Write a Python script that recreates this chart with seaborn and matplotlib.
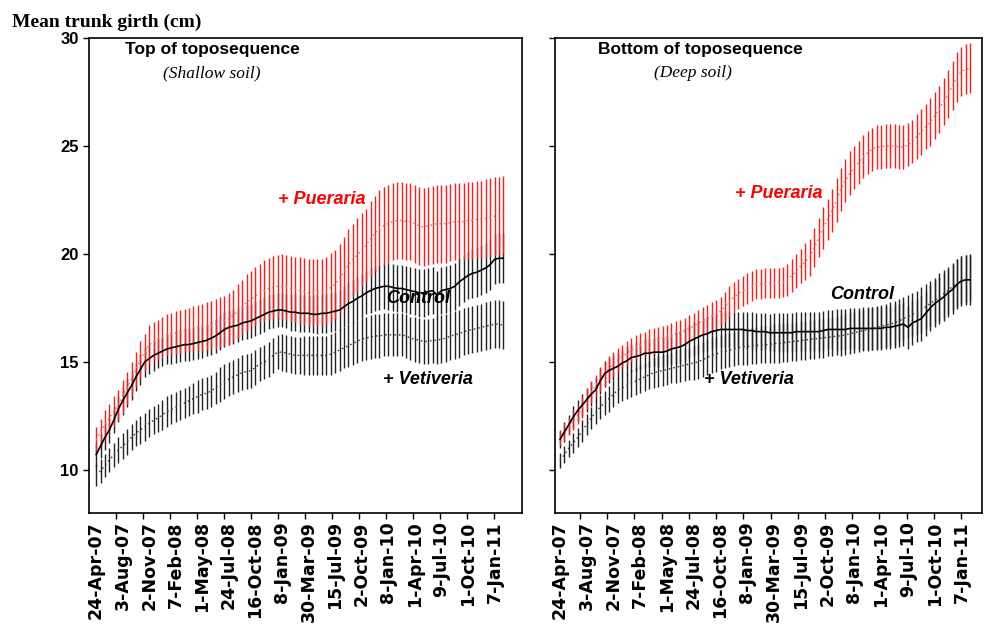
import numpy as np
import matplotlib
matplotlib.use("Agg")
import matplotlib.pyplot as plt
import seaborn as sns

# tick labels on the category axis (one label every 6 measurements)
date_labels = ["24-Apr-07", "3-Aug-07", "2-Nov-07", "7-Feb-08", "1-May-08", "24-Jul-08",
               "16-Oct-08", "8-Jan-09", "30-Mar-09", "15-Jul-09", "2-Oct-09", "8-Jan-10",
               "1-Apr-10", "9-Jul-10", "1-Oct-10", "7-Jan-11"]

# --- Top of toposequence (shallow soil) ---
top_pueraria = [11.4, 11.75, 12.1, 12.4, 12.7, 13.0, 13.4, 13.8, 14.2, 14.65,
                15.1, 15.45, 15.8, 15.95, 16.05, 16.15, 16.25, 16.3, 16.35, 16.4,
                16.45, 16.5, 16.55, 16.6, 16.6, 16.65, 16.7, 16.75, 16.85, 16.9,
                17.0, 17.15, 17.35, 17.55, 17.75, 17.9, 18.05, 18.2, 18.3, 18.4,
                18.45, 18.5, 18.5, 18.45, 18.4, 18.35, 18.3, 18.25, 18.2, 18.2,
                18.2, 18.2, 18.3, 18.45, 18.6, 18.85, 19.15, 19.5, 19.75, 19.95,
                20.2, 20.4, 20.7, 20.95, 21.2, 21.3, 21.4, 21.5, 21.55, 21.55,
                21.5, 21.5, 21.4, 21.3, 21.25, 21.3, 21.35, 21.4, 21.4, 21.4,
                21.45, 21.5, 21.5, 21.5, 21.55, 21.55, 21.6, 21.6, 21.65, 21.7,
                21.75, 21.75, 21.8]
top_pueraria_err = [0.6, 0.6, 0.65, 0.65, 0.7, 0.7, 0.75, 0.75, 0.8, 0.8,
                    0.85, 0.85, 0.9, 0.9, 0.9, 0.95, 0.95, 0.95, 1.0, 1.0,
                    1.0, 1.0, 1.05, 1.05, 1.1, 1.1, 1.1, 1.15, 1.15, 1.15,
                    1.2, 1.2, 1.25, 1.25, 1.3, 1.3, 1.35, 1.35, 1.4, 1.4,
                    1.45, 1.45, 1.5, 1.5, 1.5, 1.5, 1.55, 1.55, 1.55, 1.55,
                    1.55, 1.55, 1.55, 1.6, 1.6, 1.6, 1.65, 1.65, 1.65, 1.7,
                    1.7, 1.7, 1.75, 1.75, 1.75, 1.8, 1.8, 1.8, 1.8, 1.8,
                    1.8, 1.8, 1.8, 1.8, 1.8, 1.8, 1.8, 1.8, 1.8, 1.8,
                    1.8, 1.8, 1.8, 1.8, 1.8, 1.8, 1.8, 1.8, 1.8, 1.8,
                    1.8, 1.8, 1.8]
top_control = [10.7, 11.1, 11.5, 11.85, 12.3, 12.8, 13.2, 13.55, 13.9, 14.3,
               14.65, 15.0, 15.15, 15.3, 15.4, 15.5, 15.6, 15.65, 15.7, 15.75,
               15.8, 15.8, 15.85, 15.9, 15.95, 16.0, 16.1, 16.2, 16.35, 16.5,
               16.6, 16.65, 16.7, 16.8, 16.85, 16.9, 17.0, 17.1, 17.2, 17.3,
               17.35, 17.4, 17.4, 17.35, 17.3, 17.3, 17.25, 17.25, 17.25, 17.2,
               17.2, 17.25, 17.25, 17.3, 17.35, 17.4, 17.55, 17.7, 17.8, 17.95,
               18.05, 18.2, 18.3, 18.4, 18.45, 18.5, 18.5, 18.45, 18.4, 18.4,
               18.35, 18.3, 18.25, 18.2, 18.2, 18.25, 18.3, 18.1, 18.3, 18.35,
               18.4, 18.5, 18.7, 18.85, 19.0, 19.1, 19.15, 19.25, 19.35, 19.5,
               19.75, 19.8, 19.8]
top_control_err = [0.55, 0.55, 0.6, 0.6, 0.6, 0.6, 0.65, 0.65, 0.65, 0.65,
                   0.7, 0.7, 0.7, 0.7, 0.7, 0.7, 0.7, 0.75, 0.75, 0.75,
                   0.75, 0.75, 0.75, 0.75, 0.75, 0.75, 0.8, 0.8, 0.8, 0.8,
                   0.8, 0.8, 0.8, 0.8, 0.8, 0.8, 0.8, 0.8, 0.8, 0.8,
                   0.8, 0.8, 0.8, 0.8, 0.85, 0.85, 0.85, 0.85, 0.85, 0.85,
                   0.9, 0.9, 0.9, 0.9, 0.9, 0.95, 0.95, 0.95, 1.0, 1.0,
                   1.0, 1.0, 1.05, 1.05, 1.05, 1.05, 1.1, 1.1, 1.1, 1.1,
                   1.1, 1.1, 1.1, 1.1, 1.1, 1.1, 1.1, 1.1, 1.1, 1.1,
                   1.1, 1.1, 1.1, 1.1, 1.1, 1.15, 1.15, 1.15, 1.15, 1.15,
                   1.15, 1.15, 1.15]
top_vetiveria = [9.75, 9.95, 10.2, 10.45, 10.7, 10.9, 11.1, 11.3, 11.5, 11.7,
                 11.85, 12.0, 12.15, 12.3, 12.4, 12.55, 12.7, 12.8, 12.9, 13.0,
                 13.1, 13.2, 13.3, 13.4, 13.5, 13.55, 13.65, 13.8, 13.95, 14.1,
                 14.2, 14.3, 14.4, 14.5, 14.55, 14.6, 14.75, 14.9, 15.0, 15.1,
                 15.3, 15.45, 15.45, 15.4, 15.35, 15.3, 15.3, 15.3, 15.3, 15.3,
                 15.3, 15.3, 15.3, 15.35, 15.45, 15.55, 15.65, 15.75, 15.85, 15.95,
                 16.05, 16.1, 16.15, 16.2, 16.2, 16.25, 16.25, 16.25, 16.25, 16.25,
                 16.2, 16.1, 16.05, 16.0, 15.95, 15.95, 16.0, 16.0, 16.05, 16.1,
                 16.2, 16.25, 16.3, 16.4, 16.45, 16.5, 16.55, 16.6, 16.65, 16.7,
                 16.75, 16.75, 16.7]
top_vetiveria_err = [0.5, 0.55, 0.55, 0.55, 0.55, 0.6, 0.6, 0.6, 0.6, 0.6,
                     0.65, 0.65, 0.65, 0.65, 0.65, 0.7, 0.7, 0.7, 0.7, 0.7,
                     0.7, 0.7, 0.7, 0.75, 0.75, 0.75, 0.75, 0.75, 0.8, 0.8,
                     0.8, 0.8, 0.8, 0.8, 0.8, 0.8, 0.8, 0.8, 0.8, 0.8,
                     0.8, 0.8, 0.85, 0.85, 0.85, 0.85, 0.85, 0.9, 0.9, 0.9,
                     0.9, 0.9, 0.9, 0.95, 0.95, 0.95, 0.95, 1.0, 1.0, 1.0,
                     1.0, 1.0, 1.0, 1.0, 1.0, 1.0, 1.0, 1.0, 1.0, 1.0,
                     1.0, 1.0, 1.05, 1.05, 1.05, 1.05, 1.05, 1.1, 1.1, 1.1,
                     1.1, 1.1, 1.1, 1.1, 1.1, 1.1, 1.1, 1.1, 1.1, 1.1,
                     1.1, 1.1, 1.1]

# --- Bottom of toposequence (deep soil) ---
bot_pueraria = [11.5, 11.75, 12.0, 12.3, 12.55, 12.9, 13.25, 13.6, 13.9, 14.2,
                14.45, 14.7, 14.9, 15.1, 15.25, 15.4, 15.55, 15.7, 15.8, 15.85,
                15.9, 15.95, 16.0, 16.05, 16.1, 16.2, 16.3, 16.35, 16.45, 16.55,
                16.65, 16.8, 16.9, 17.0, 17.1, 17.2, 17.35, 17.55, 17.8, 18.0,
                18.15, 18.3, 18.4, 18.5, 18.6, 18.6, 18.65, 18.65, 18.65, 18.65,
                18.7, 18.8, 19.0, 19.2, 19.45, 19.65, 19.85, 20.3, 20.75, 21.2,
                21.6, 22.0, 22.5, 23.0, 23.4, 23.75, 24.0, 24.25, 24.5, 24.7,
                24.85, 24.95, 24.95, 25.0, 25.0, 25.0, 24.95, 24.95, 25.05, 25.2,
                25.45, 25.65, 25.9, 26.1, 26.4, 26.7, 27.05, 27.4, 27.8, 28.2,
                28.45, 28.55, 28.6]
bot_pueraria_err = [0.35, 0.4, 0.4, 0.45, 0.45, 0.5, 0.5, 0.5, 0.5, 0.55,
                    0.55, 0.55, 0.55, 0.55, 0.55, 0.55, 0.55, 0.55, 0.55, 0.55,
                    0.6, 0.6, 0.6, 0.6, 0.6, 0.6, 0.6, 0.6, 0.6, 0.6,
                    0.6, 0.6, 0.65, 0.65, 0.65, 0.65, 0.65, 0.7, 0.7, 0.7,
                    0.7, 0.7, 0.7, 0.7, 0.7, 0.7, 0.7, 0.7, 0.7, 0.7,
                    0.7, 0.75, 0.75, 0.8, 0.8, 0.85, 0.85, 0.9, 0.9, 0.95,
                    0.95, 1.0, 1.0, 1.0, 1.0, 1.0, 1.0, 1.0, 1.0, 1.0,
                    1.0, 1.0, 1.0, 1.0, 1.0, 1.0, 1.0, 1.0, 1.0, 1.0,
                    1.05, 1.05, 1.05, 1.1, 1.1, 1.1, 1.1, 1.1, 1.15, 1.15,
                    1.15, 1.15, 1.15]
bot_control = [11.4, 11.75, 12.1, 12.45, 12.75, 13.0, 13.25, 13.5, 13.7, 14.1,
               14.45, 14.6, 14.7, 14.8, 14.95, 15.05, 15.2, 15.25, 15.3, 15.4,
               15.4, 15.45, 15.45, 15.45, 15.5, 15.6, 15.65, 15.7, 15.8, 15.95,
               16.05, 16.15, 16.25, 16.3, 16.4, 16.45, 16.5, 16.5, 16.5, 16.5,
               16.5, 16.5, 16.45, 16.45, 16.4, 16.4, 16.4, 16.35, 16.35, 16.35,
               16.35, 16.35, 16.35, 16.4, 16.4, 16.4, 16.4, 16.4, 16.4, 16.45,
               16.5, 16.5, 16.5, 16.5, 16.5, 16.55, 16.55, 16.55, 16.55, 16.55,
               16.55, 16.55, 16.55, 16.6, 16.6, 16.65, 16.7, 16.75, 16.6, 16.8,
               16.9, 17.0, 17.25, 17.5, 17.7, 17.85, 18.0, 18.2, 18.35, 18.6,
               18.75, 18.8, 18.8]
bot_control_err = [0.4, 0.45, 0.45, 0.5, 0.5, 0.5, 0.55, 0.55, 0.55, 0.6,
                   0.6, 0.6, 0.6, 0.6, 0.6, 0.65, 0.65, 0.65, 0.65, 0.65,
                   0.65, 0.65, 0.7, 0.7, 0.7, 0.7, 0.75, 0.75, 0.75, 0.75,
                   0.8, 0.8, 0.8, 0.8, 0.8, 0.8, 0.8, 0.8, 0.8, 0.8,
                   0.8, 0.8, 0.85, 0.85, 0.85, 0.85, 0.85, 0.85, 0.9, 0.9,
                   0.9, 0.9, 0.9, 0.9, 0.9, 0.9, 0.9, 0.9, 0.9, 0.9,
                   0.9, 0.9, 0.95, 0.95, 0.95, 0.95, 0.95, 0.95, 1.0, 1.0,
                   1.0, 1.0, 1.0, 1.0, 1.0, 1.0, 1.0, 1.0, 1.0, 1.0,
                   1.0, 1.05, 1.05, 1.05, 1.1, 1.1, 1.1, 1.1, 1.15, 1.15,
                   1.15, 1.15, 1.15]
bot_vetiveria = [10.45, 10.7, 11.0, 11.25, 11.5, 11.8, 12.1, 12.4, 12.65, 12.9,
                 13.1, 13.3, 13.5, 13.7, 13.8, 13.9, 14.0, 14.1, 14.2, 14.3,
                 14.4, 14.5, 14.55, 14.6, 14.65, 14.7, 14.75, 14.8, 14.85, 14.9,
                 14.95, 15.0, 15.1, 15.2, 15.3, 15.35, 15.45, 15.5, 15.55, 15.6,
                 15.65, 15.7, 15.7, 15.75, 15.75, 15.8, 15.8, 15.8, 15.85, 15.85,
                 15.9, 15.9, 15.95, 15.95, 16.0, 16.0, 16.05, 16.05, 16.1, 16.1,
                 16.15, 16.15, 16.2, 16.2, 16.25, 16.3, 16.35, 16.4, 16.45, 16.5,
                 16.55, 16.6, 16.65, 16.7, 16.75, 16.8, 16.9, 17.0, 17.1, 17.2,
                 17.3, 17.4, 17.55, 17.7, 17.85, 18.0, 18.15, 18.3, 18.5, 18.65,
                 18.8, 18.85, 18.9]
bot_vetiveria_err = [0.35, 0.4, 0.4, 0.45, 0.45, 0.5, 0.5, 0.5, 0.55, 0.55,
                     0.55, 0.6, 0.6, 0.6, 0.6, 0.6, 0.65, 0.65, 0.65, 0.65,
                     0.65, 0.7, 0.7, 0.7, 0.7, 0.7, 0.75, 0.75, 0.75, 0.75,
                     0.8, 0.8, 0.8, 0.8, 0.8, 0.8, 0.8, 0.8, 0.8, 0.8,
                     0.8, 0.85, 0.85, 0.85, 0.85, 0.85, 0.85, 0.85, 0.9, 0.9,
                     0.9, 0.9, 0.9, 0.9, 0.9, 0.9, 0.9, 0.9, 0.9, 0.9,
                     0.9, 0.9, 0.9, 0.95, 0.95, 0.95, 0.95, 0.95, 0.95, 1.0,
                     1.0, 1.0, 1.0, 1.0, 1.0, 1.0, 1.0, 1.0, 1.0, 1.0,
                     1.0, 1.05, 1.05, 1.05, 1.05, 1.1, 1.1, 1.1, 1.1, 1.1,
                     1.1, 1.1, 1.1]

sns.set_style("ticks")
plt.rcParams['font.family'] = ['Liberation Sans', 'DejaVu Sans']
plt.rcParams['text.color'] = 'black'
plt.rcParams['xtick.color'] = 'black'
plt.rcParams['ytick.color'] = 'black'
plt.rcParams['axes.labelcolor'] = 'black'

fig = plt.figure(figsize=(9.88, 6.30), dpi=100)
ax1 = fig.add_axes([89 / 988, 117 / 630, 433 / 988, 475 / 630])
ax2 = fig.add_axes([555 / 988, 117 / 630, 427 / 988, 475 / 630])


def draw_panel(ax, pueraria, pueraria_err, control, control_err, vetiveria, vetiveria_err):
    idx = np.arange(len(control))
    # black bars first, red bars drawn over them, then the mean lines
    ax.errorbar(idx, vetiveria, yerr=vetiveria_err, fmt='none', ecolor='#222222', elinewidth=1.0, capsize=0)
    ax.errorbar(idx, control, yerr=control_err, fmt='none', ecolor='#222222', elinewidth=1.0, capsize=0)
    ax.errorbar(idx, pueraria, yerr=pueraria_err, fmt='none', ecolor='#ff1a1a', elinewidth=1.0, capsize=0)
    sns.lineplot(x=idx, y=pueraria, ax=ax, color='#ff6666', linestyle=(0, (1, 2)), linewidth=1.1)
    sns.lineplot(x=idx, y=control, ax=ax, color='black', linewidth=1.2)
    sns.lineplot(x=idx, y=vetiveria, ax=ax, color='#444444', linestyle=(0, (1, 2)), linewidth=1.1)

    ax.set_ylim(8, 30)
    ax.set_yticks([10, 15, 20, 25, 30])
    ax.set_xticks(np.arange(0, len(date_labels) * 6, 6))
    ax.set_xticklabels(date_labels, rotation=90, fontsize=12.5, fontweight='bold',
                       family=['DejaVu Sans'], color='black')
    ax.set_xticks(np.arange(4.5, 91, 6.1), minor=True)
    ax.tick_params(axis='x', which='major', length=0, pad=6)
    ax.tick_params(axis='x', which='minor', length=4, width=1, direction='out', color='black')
    ax.tick_params(axis='y', length=4, width=1, direction='out', color='black', labelcolor='black')
    for s in ax.spines.values():
        s.set_linewidth(1.2)
        s.set_color('black')
    ax.set_xlabel('')
    ax.set_ylabel('')


draw_panel(ax1, top_pueraria, top_pueraria_err, top_control, top_control_err,
           top_vetiveria, top_vetiveria_err)
draw_panel(ax2, bot_pueraria, bot_pueraria_err, bot_control, bot_control_err,
           bot_vetiveria, bot_vetiveria_err)

ax1.set_xlim(-1.6, 96.2)
ax2.set_xlim(-1.1, 94.6)

for lab in ax1.get_yticklabels():
    lab.set_fontweight('bold')
    lab.set_fontsize(12)
ax2.set_yticklabels([])

# panel titles
ax1.text(0.284, 0.975, "Top of toposequence", transform=ax1.transAxes, ha='center', va='center',
         fontsize=12.5, fontweight='bold')
ax1.text(0.284, 0.926, "(Shallow soil)", transform=ax1.transAxes, ha='center', va='center',
         fontsize=12.5, style='italic', family=['Liberation Serif', 'DejaVu Serif'])
ax2.text(0.34, 0.975, "Bottom of toposequence", transform=ax2.transAxes, ha='center', va='center',
         fontsize=12.5, fontweight='bold')
ax2.text(0.323, 0.926, "(Deep soil)", transform=ax2.transAxes, ha='center', va='center',
         fontsize=12.5, style='italic', family=['Liberation Serif', 'DejaVu Serif'])

# treatment labels
lab_kw = dict(ha='center', va='center', fontsize=13, fontweight='bold', style='italic')
ax1.text(51, 22.5, "+ Pueraria", color='#ff0000', **lab_kw)
ax1.text(72.7, 17.95, "Control", color='black', **lab_kw)
ax1.text(75, 14.2, "+ Vetiveria", color='black', **lab_kw)
ax2.text(49.1, 22.8, "+ Pueraria", color='#ff0000', **lab_kw)
ax2.text(67.7, 18.1, "Control", color='black', **lab_kw)
ax2.text(42.4, 14.17, "+ Vetiveria", color='black', **lab_kw)

fig.text(12 / 988, 1 - 22 / 630, "Mean trunk girth (cm)", ha='left', va='center',
         fontsize=14, fontweight='bold', family=['Liberation Serif', 'DejaVu Serif'])

fig.savefig("out.png", dpi=100)
